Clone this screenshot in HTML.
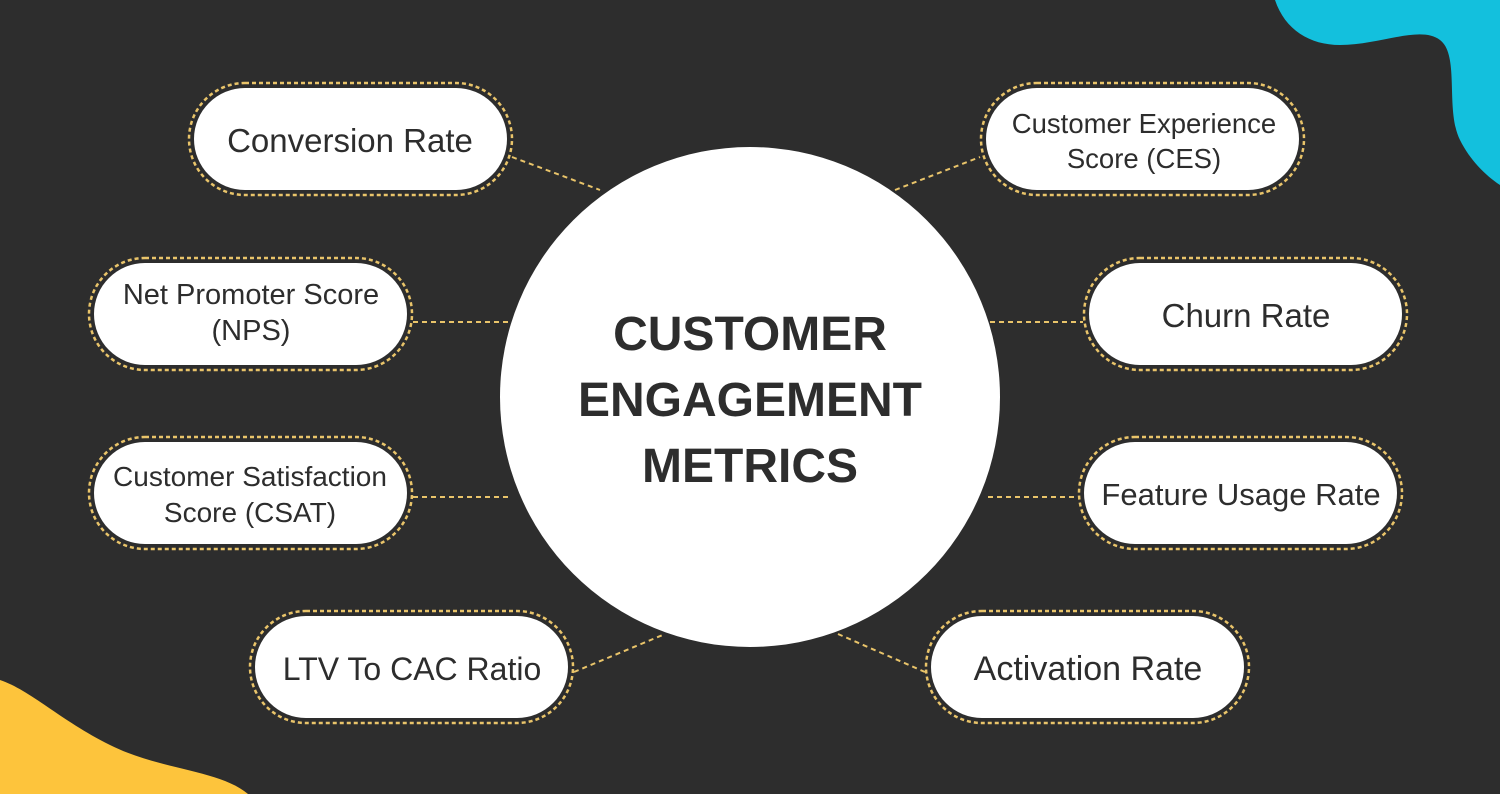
<!DOCTYPE html>
<html><head><meta charset="utf-8"><style>
html,body{margin:0;padding:0;background:#2d2d2d;}
body{width:1500px;height:794px;position:relative;overflow:hidden;font-family:"Liberation Sans",sans-serif;}
svg{position:absolute;left:0;top:0;}
text{font-family:"Liberation Sans",sans-serif;fill:#2d2d2d;text-anchor:middle;}
</style></head><body>
<svg width="1500" height="794" viewBox="0 0 1500 794">
<rect width="1500" height="794" fill="#2d2d2d"/>
<path d="M1275,0 C1285,30 1310,45 1340,45 C1380,45 1420,25 1440,40 C1460,55 1445,110 1460,140 C1470,160 1485,175 1500,185 L1500,0 Z" fill="#13c0dd"/>
<path d="M0,680 C30,690 60,720 110,745 C160,770 220,770 248,794 L0,794 Z" fill="#fdc43c"/>
<g stroke="#e9c46a" stroke-width="2" stroke-dasharray="5,4" fill="none">
<line x1="512" y1="157" x2="600" y2="190"/>
<line x1="413" y1="322" x2="510" y2="322"/>
<line x1="413" y1="497" x2="512" y2="497"/>
<line x1="574" y1="672" x2="665" y2="634"/>
<line x1="895" y1="190" x2="980" y2="157"/>
<line x1="990" y1="322" x2="1083" y2="322"/>
<line x1="988" y1="497" x2="1078" y2="497"/>
<line x1="838" y1="634" x2="925" y2="672"/>
</g>
<circle cx="750" cy="397" r="250" fill="#fff"/>
<g font-weight="bold" font-size="48">
<text x="750" y="350">CUSTOMER</text>
<text x="750" y="416">ENGAGEMENT</text>
<text x="750" y="482">METRICS</text>
</g>
<g transform="translate(188,82)"><rect x="1" y="1" width="323" height="112" rx="56" fill="none" stroke="#e9c46a" stroke-width="2.5" stroke-dasharray="4,3"/><rect x="6" y="6" width="313" height="102" rx="51" fill="#fff"/><text x="162" y="70" font-size="33">Conversion Rate</text></g>
<g transform="translate(88,257)"><rect x="1" y="1" width="323" height="112" rx="56" fill="none" stroke="#e9c46a" stroke-width="2.5" stroke-dasharray="4,3"/><rect x="6" y="6" width="313" height="102" rx="51" fill="#fff"/><text x="163" y="47" font-size="29">Net Promoter Score</text><text x="163" y="83" font-size="29">(NPS)</text></g>
<g transform="translate(88,436)"><rect x="1" y="1" width="323" height="112" rx="56" fill="none" stroke="#e9c46a" stroke-width="2.5" stroke-dasharray="4,3"/><rect x="6" y="6" width="313" height="102" rx="51" fill="#fff"/><text x="162" y="50" font-size="28">Customer Satisfaction</text><text x="162" y="86" font-size="28">Score (CSAT)</text></g>
<g transform="translate(249,610)"><rect x="1" y="1" width="323" height="112" rx="56" fill="none" stroke="#e9c46a" stroke-width="2.5" stroke-dasharray="4,3"/><rect x="6" y="6" width="313" height="102" rx="51" fill="#fff"/><text x="163" y="70" font-size="32">LTV To CAC Ratio</text></g>
<g transform="translate(980,82)"><rect x="1" y="1" width="323" height="112" rx="56" fill="none" stroke="#e9c46a" stroke-width="2.5" stroke-dasharray="4,3"/><rect x="6" y="6" width="313" height="102" rx="51" fill="#fff"/><text x="164" y="51" font-size="27.5">Customer Experience</text><text x="164" y="86" font-size="27.5">Score (CES)</text></g>
<g transform="translate(1083,257)"><rect x="1" y="1" width="323" height="112" rx="56" fill="none" stroke="#e9c46a" stroke-width="2.5" stroke-dasharray="4,3"/><rect x="6" y="6" width="313" height="102" rx="51" fill="#fff"/><text x="163" y="70" font-size="33">Churn Rate</text></g>
<g transform="translate(1078,436)"><rect x="1" y="1" width="323" height="112" rx="56" fill="none" stroke="#e9c46a" stroke-width="2.5" stroke-dasharray="4,3"/><rect x="6" y="6" width="313" height="102" rx="51" fill="#fff"/><text x="163" y="69" font-size="31">Feature Usage Rate</text></g>
<g transform="translate(925,610)"><rect x="1" y="1" width="323" height="112" rx="56" fill="none" stroke="#e9c46a" stroke-width="2.5" stroke-dasharray="4,3"/><rect x="6" y="6" width="313" height="102" rx="51" fill="#fff"/><text x="163" y="70" font-size="34">Activation Rate</text></g>
</svg>
</body></html>
